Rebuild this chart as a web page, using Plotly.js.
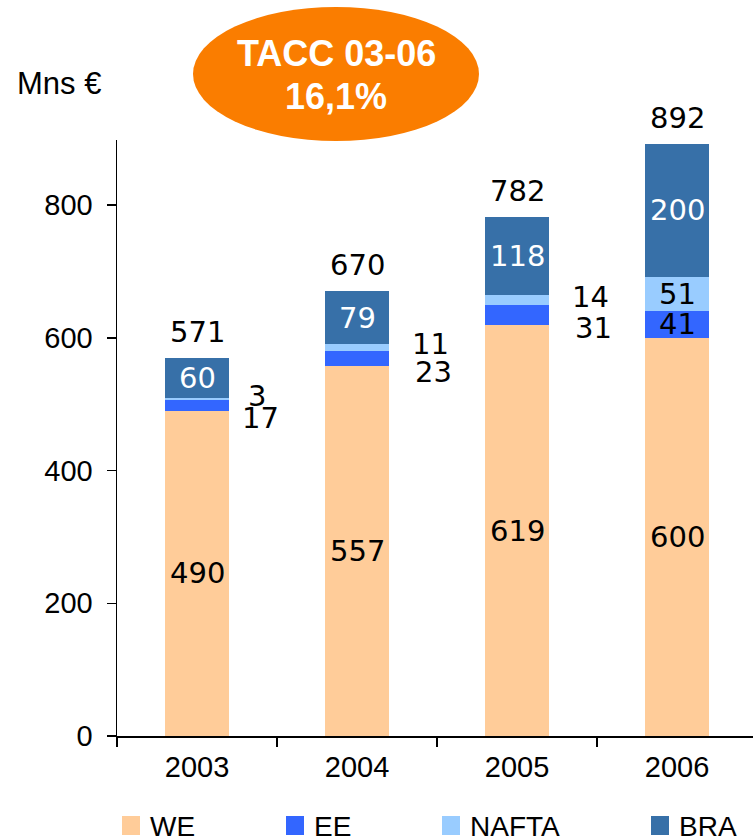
<!DOCTYPE html>
<html>
<head>
<meta charset="utf-8">
<script src="https://cdn.plot.ly/plotly-3.0.1.min.js"></script>
<style>html,body{margin:0;padding:0;background:#fff;}#chart{width:753px;height:838px;}</style>
</head>
<body>
<div id="chart"></div>
<script>
// ---- data ----
const years = ['2003', '2004', '2005', '2006'];
const seriesNames = ['WE', 'EE', 'NAFTA', 'BRA'];
const WE = [490, 557, 619, 600];
const EE = [17, 23, 31, 41];
const NAFTA = [3, 11, 14, 51];
const BRA = [60, 79, 118, 200];
const TOTAL = [571, 670, 782, 892];
const yTicks = [0, 200, 400, 600, 800];
const unitLabel = 'Mns €';
const badgeLine1 = 'TACC 03-06';
const badgeLine2 = '16,1%';

// ---- style ----
const colors = ['#FFCC99', '#3366FF', '#99CCFF', '#3770A8'];
const labelFont = 'DejaVu Sans, Verdana, sans-serif';
const axisFont = 'Liberation Sans, Arial, sans-serif';
const smallInside = [false, false, false, true];
const outsideShift = [63, 76, 76, 0];

const series = [WE, EE, NAFTA, BRA];
const traces = series.map((vals, i) => ({
  type: 'bar', x: years, y: vals, name: seriesNames[i],
  marker: {color: colors[i], line: {width: 0}},
  width: 0.4, hoverinfo: 'skip', showlegend: false
}));

const ann = [];
years.forEach((yr, j) => {
  let base = 0;
  const mids = series.map(vals => { const m = base + vals[j] / 2; base += vals[j]; return m; });
  const top = base;
  // WE label
  ann.push({x: j, y: mids[0], xref: 'x', yref: 'y', text: String(WE[j]), showarrow: false,
    font: {family: labelFont, size: 29, color: '#000'}});
  // BRA label
  ann.push({x: j, y: mids[3], xref: 'x', yref: 'y', text: String(BRA[j]), showarrow: false,
    font: {family: labelFont, size: 29, color: '#fff'}});
  // EE & NAFTA
  if (smallInside[j]) {
    ann.push({x: j, y: mids[1], xref: 'x', yref: 'y', text: String(EE[j]), showarrow: false,
      font: {family: labelFont, size: 29, color: '#000'}});
    ann.push({x: j, y: mids[2], xref: 'x', yref: 'y', text: String(NAFTA[j]), showarrow: false,
      font: {family: labelFont, size: 29, color: '#000'}});
  } else {
    ann.push({x: j, y: mids[1], xref: 'x', yref: 'y', xshift: outsideShift[j], yshift: -13,
      text: String(EE[j]), showarrow: false, font: {family: labelFont, size: 29, color: '#000'}});
    ann.push({x: j, y: mids[2], xref: 'x', yref: 'y', xshift: outsideShift[j] - 3, yshift: 3,
      text: String(NAFTA[j]), showarrow: false, font: {family: labelFont, size: 29, color: '#000'}});
  }
  // total
  ann.push({x: j, y: top, xref: 'x', yref: 'y', yshift: 26, text: String(TOTAL[j]), showarrow: false,
    font: {family: labelFont, size: 29, color: '#000'}});
});

// unit label
ann.push({x: -117/636 + 15/636, y: (736 - 84) / 596, xref: 'paper', yref: 'paper', xanchor: 'left', yanchor: 'middle',
  text: unitLabel, showarrow: false, font: {family: axisFont, size: 31, color: '#000'}});
// badge text
ann.push({x: (336 - 117) / 636, y: (736 - 53) / 596, xref: 'paper', yref: 'paper', yanchor: 'middle',
  text: '<b>' + badgeLine1 + '</b>', showarrow: false, font: {family: axisFont, size: 36, color: '#fff'}});
ann.push({x: (336 - 117) / 636, y: (736 - 96) / 596, xref: 'paper', yref: 'paper', yanchor: 'middle',
  text: '<b>' + badgeLine2 + '</b>', showarrow: false, font: {family: axisFont, size: 36, color: '#fff'}});

const shapes = [{
  type: 'circle', xref: 'paper', yref: 'paper',
  x0: (193 - 117) / 636, x1: (479 - 117) / 636, y0: (736 - 141) / 596, y1: (736 - 7) / 596,
  fillcolor: '#FA7D00', line: {width: 0}, layer: 'above'
}];

// custom legend
const legSq = [122, 286, 442, 651];
seriesNames.forEach((nm, i) => {
  shapes.push({type: 'rect', xref: 'paper', yref: 'paper',
    x0: (legSq[i] - 117) / 636, x1: (legSq[i] + 18 - 117) / 636,
    y0: (736 - 835) / 596, y1: (736 - 816) / 596,
    fillcolor: colors[i], line: {width: 0}});
  ann.push({x: (legSq[i] + 26 - 117) / 636, y: (736 - 826) / 596, xref: 'paper', yref: 'paper',
    xanchor: 'left', yanchor: 'middle', text: nm, showarrow: false,
    font: {family: axisFont, size: 28, color: '#000'}});
});

const layout = {
  width: 753, height: 838,
  margin: {l: 117, r: 0, t: 140, b: 102},
  paper_bgcolor: '#fff', plot_bgcolor: '#fff',
  barmode: 'stack',
  showlegend: false,
  xaxis: {
    type: 'category', range: [-0.5, 3.475],
    showline: true, linecolor: '#000', linewidth: 1.5,
    ticks: 'outside', tickson: 'boundaries', ticklen: 9, tickcolor: '#000', tickwidth: 1.5,
    ticklabelstandoff: 5,
    tickfont: {family: axisFont, size: 29, color: '#000'},
    showgrid: false, zeroline: false, fixedrange: true
  },
  yaxis: {
    range: [0, 898], tickvals: yTicks, ticktext: yTicks.map(String),
    showline: true, linecolor: '#000', linewidth: 1.5,
    ticks: 'outside', ticklen: 9, tickcolor: '#000', tickwidth: 1.5,
    ticklabelstandoff: 8,
    tickfont: {family: axisFont, size: 29, color: '#000'},
    showgrid: false, zeroline: false, fixedrange: true
  },
  annotations: ann,
  shapes: shapes
};

Plotly.newPlot('chart', traces, layout, {displayModeBar: false, staticPlot: true});
</script>
</body>
</html>
